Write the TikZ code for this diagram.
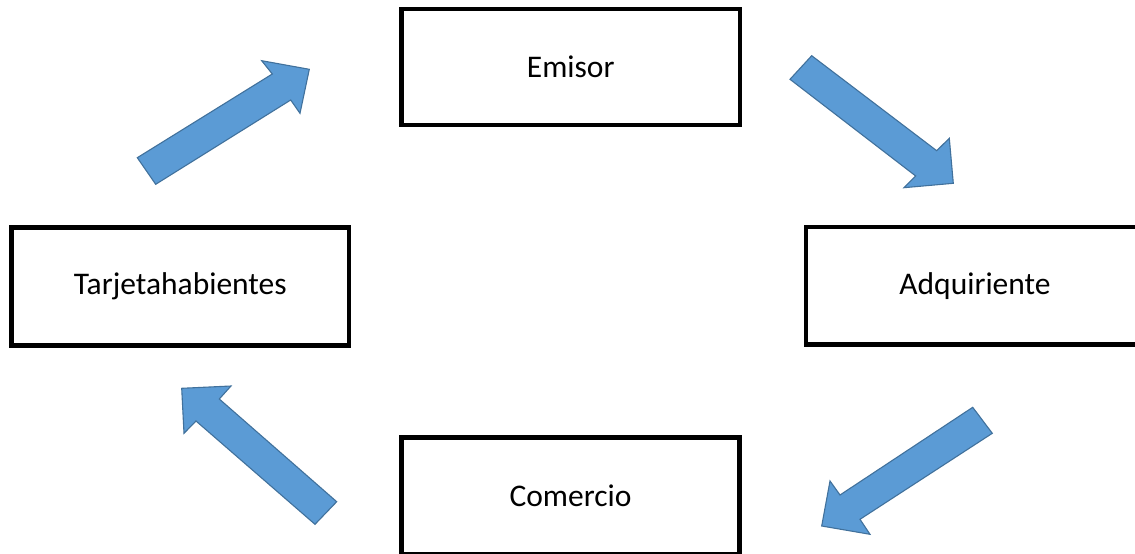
\documentclass[tikz,border=0pt]{standalone}
\usepackage{fontspec}
\setmainfont{Carlito}
\definecolor{arrowfill}{HTML}{5B9BD5}
\definecolor{arrowline}{HTML}{41719C}
\tikzset{
  boxnode/.style={draw=black, line width=4.5pt, fill=white, rectangle, inner sep=0pt,
    font=\fontsize{31.5}{38}\selectfont},
  blockarrow/.style={fill=arrowfill, draw=arrowline, line width=1.1pt, line join=miter}
}
\begin{document}
\begin{tikzpicture}[x=1pt, y=-1pt]
\useasboundingbox (0,0) rectangle (1135,554);
\clip (0,0) rectangle (1135,554);
\node[boxnode, minimum width=338.5pt, minimum height=116pt] (emisor) at (570.75,67) {Emisor};
\node[boxnode, minimum width=337.5pt, minimum height=118pt] (tarj) at (180.25,286.4) {Tarjetahabientes};
\node[boxnode, minimum width=338pt, minimum height=117.5pt] (adq) at (975,285.7) {Adquiriente};
\node[boxnode, minimum width=338pt, minimum height=117pt] (comercio) at (570.5,496) {Comercio};
% Tarjetahabientes -> Emisor
\draw[blockarrow] (137.3,157.7) -- (272.3,74) -- (261.7,60.7) -- (309.3,69.3) -- (300,113.3) -- (290.7,100) -- (155.7,184.3) -- cycle;
% Emisor -> Adquiriente
\draw[blockarrow] (811.7,55.7) -- (936.7,150.7) -- (949.3,138.3) -- (953.3,183.3) -- (904,187.7) -- (915.7,176) -- (790,79.3) -- cycle;
% Adquiriente -> Comercio
\draw[blockarrow] (992.3,433.3) -- (860,519.3) -- (870,534.3) -- (821.7,526) -- (830,481) -- (840,495) -- (972.7,407.3) -- cycle;
% Comercio -> Tarjetahabientes
\draw[blockarrow] (315,524.3) -- (196,421) -- (184,433.3) -- (181.7,388.3) -- (231,386) -- (219.3,399) -- (336.7,501.7) -- cycle;
\end{tikzpicture}
\end{document}
